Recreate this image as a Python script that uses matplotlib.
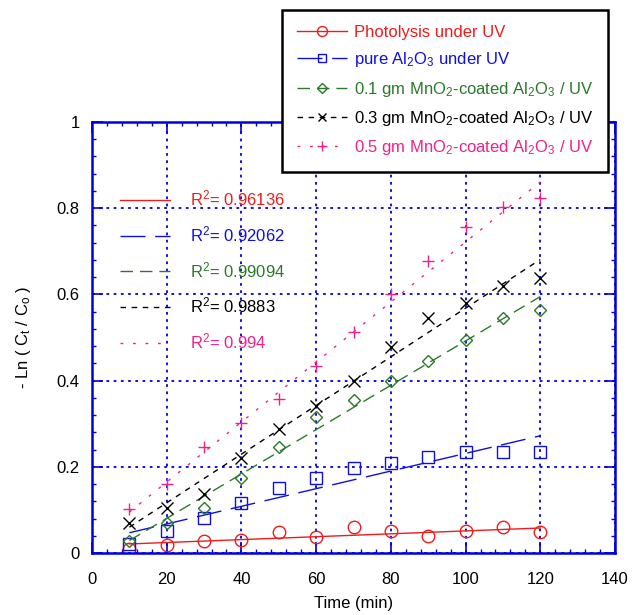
import numpy as np
import matplotlib
matplotlib.use("Agg")
import matplotlib.pyplot as plt
from matplotlib.ticker import MultipleLocator

plt.rcParams['font.family'] = ['Liberation Sans', 'DejaVu Sans']
plt.rcParams['mathtext.fontset'] = 'custom'
plt.rcParams['mathtext.rm'] = 'Liberation Sans'
plt.rcParams['mathtext.it'] = 'Liberation Sans:italic'
plt.rcParams['mathtext.default'] = 'regular'

# time (min)
time_min = [10, 20, 30, 40, 50, 60, 70, 80, 90, 100, 110, 120]

# -ln(Ct/Co)
photolysis = [0.010, 0.019, 0.028, 0.030, 0.049, 0.037, 0.060, 0.051, 0.040, 0.051, 0.060, 0.049]
pure_al2o3 = [0.020, 0.051, 0.081, 0.116, 0.151, 0.174, 0.198, 0.209, 0.223, 0.235, 0.235, 0.235]
mno2_01 = [0.028, 0.070, 0.105, 0.174, 0.247, 0.316, 0.356, 0.400, 0.446, 0.495, 0.546, 0.563]
mno2_03 = [0.070, 0.105, 0.137, 0.221, 0.288, 0.340, 0.400, 0.479, 0.546, 0.581, 0.619, 0.637]
mno2_05 = [0.102, 0.160, 0.247, 0.302, 0.358, 0.433, 0.512, 0.600, 0.677, 0.756, 0.802, 0.823]

# linear fit lines: value at t=10 and t=120
fit_x = [10, 120]
fit_photolysis = [0.021, 0.058]
fit_pure = [0.047, 0.272]
fit_01 = [0.029, 0.595]
fit_03 = [0.060, 0.681]
fit_05 = [0.095, 0.861]

labels = ["Photolysis under UV",
          "pure Al$_2$O$_3$ under UV",
          "0.1 gm MnO$_2$-coated Al$_2$O$_3$ / UV",
          "0.3 gm MnO$_2$-coated Al$_2$O$_3$ / UV",
          "0.5 gm MnO$_2$-coated Al$_2$O$_3$ / UV"]
r2_labels = ["R$^2$= 0.96136", "R$^2$= 0.92062", "R$^2$= 0.99094", "R$^2$= 0.9883", "R$^2$= 0.994"]

blue = '#0000dd'
colors = ['#ee1c1c', '#1010dd', '#2a7a2a', '#000000', '#f0208c']
markers = ['o', 's', 'D', 'x', '+']
msizes = [9, 8, 6, 8, 9]
styles = ['-', (0, (18, 7)), (0, (9, 5)), (0, (4, 4)), (0, (2, 7))]

series = [photolysis, pure_al2o3, mno2_01, mno2_03, mno2_05]
fits = [fit_photolysis, fit_pure, fit_01, fit_03, fit_05]

fig = plt.figure(figsize=(6.32, 6.15), dpi=100)
ax = fig.add_axes([0.1456, 0.1008, 0.8275, 0.7008])

fit_handles = []
combo_handles = []
for i in range(5):
    fl, = ax.plot(fit_x, fits[i], color=colors[i], linestyle=styles[i], lw=1.0)
    ax.plot(time_min, series[i], linestyle='none', marker=markers[i], ms=msizes[i],
            mfc='none', mec=colors[i], mew=1.0)
    fit_handles.append(fl)
    h, = ax.plot([], [], color=colors[i], linestyle=styles[i], lw=1.0,
                 marker=markers[i], ms=msizes[i] * 0.8, mfc='none', mec=colors[i], mew=1.0)
    combo_handles.append(h)

ax.set_xlim(0, 140)
ax.set_ylim(0, 1)
ax.xaxis.set_major_locator(MultipleLocator(20))
ax.yaxis.set_major_locator(MultipleLocator(0.2))
ax.xaxis.set_minor_locator(MultipleLocator(4))
ax.yaxis.set_minor_locator(MultipleLocator(0.04))
ax.set_yticks([0, 0.2, 0.4, 0.6, 0.8, 1.0])
ax.set_yticklabels(['0', '0.2', '0.4', '0.6', '0.8', '1'])
ax.tick_params(which='both', direction='in', top=True, right=True, color=blue, labelsize=12)
ax.tick_params(axis='x', pad=14)
ax.tick_params(axis='y', pad=9)
ax.tick_params(which='major', length=8, width=1.2)
ax.tick_params(which='minor', length=3, width=1.0)
ax.grid(True, which='major', color=blue, linestyle=(0, (1.5, 2.5)), lw=1.3)
for sp in ax.spines.values():
    sp.set_color(blue)
    sp.set_linewidth(1.8)

ax.set_xlabel("Time (min)", fontsize=12, labelpad=6)
ax.set_ylabel("- Ln ( C$_t$ / C$_o$ )", fontsize=12, labelpad=17)

leg = fig.legend(combo_handles, labels, loc='upper left', bbox_to_anchor=(0.446, 0.984),
                 bbox_transform=fig.transFigure, fontsize=12, numpoints=1, handlelength=3.0,
                 handletextpad=0.4, labelspacing=0.62, borderpad=0.9, borderaxespad=0,
                 fancybox=False, framealpha=1, edgecolor='black')
leg.get_frame().set_linewidth(1.8)
for t, c in zip(leg.get_texts(), colors):
    t.set_color(c)

leg2 = ax.legend(fit_handles, r2_labels, loc='upper left', bbox_to_anchor=(0.025, 0.88),
                 fontsize=12, handlelength=3.0, handletextpad=1.2, labelspacing=0.95,
                 frameon=False)
for t, c in zip(leg2.get_texts(), colors):
    t.set_color(c)

fig.savefig("out.png", dpi=100)
